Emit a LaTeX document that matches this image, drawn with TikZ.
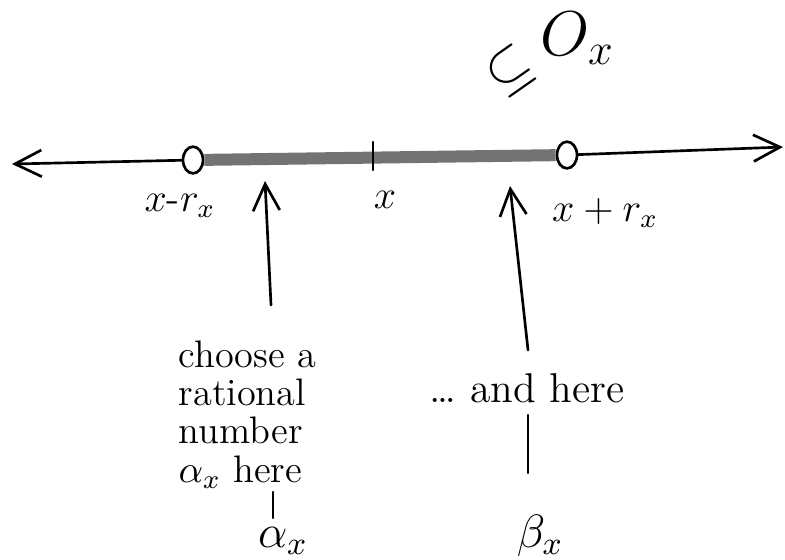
\RequirePackage{fix-cm}
\documentclass[tikz,border=0pt]{standalone}
\usepackage{amsmath}
\usetikzlibrary{arrows.meta, positioning, shapes.geometric}

\begin{document}
\begin{tikzpicture}[
  x=0.3pt,y=-0.3pt,
  pen/.style={line width=0.7pt, line cap=round},
  tipped/.style={-{Straight Barb[length=8pt,width=8pt]}, line width=0.8pt},
  hole/.style={draw, ellipse, line width=0.8pt, inner sep=0pt, minimum width=6pt, minimum height=8pt, fill=white},
  band/.style={line width=3.6pt, draw=black!55},
  lbl/.style={font=\fontsize{12}{14}\selectfont, inner sep=0pt},
  txt/.style={font=\fontsize{11.5}{11.5}\selectfont, inner sep=0pt},
  big/.style={font=\fontsize{14}{16}\selectfont, inner sep=0pt}
]

\useasboundingbox (0,0) rectangle (785,559);

% number line
\node[hole] (lo) at (193,160) {};
\node[hole] (hi) at (567,155) {};
\coordinate (lend) at (12,164);
\coordinate (rend) at (783,147);
\coordinate (xpt) at (373,156);

\draw[band] (lo) -- (hi);
\draw[pen, tipped] (lo) -- (lend);
\draw[pen, tipped] (hi) -- (rend);
\draw[pen] (xpt) ++(0,-14) -- ++(0,28);

% labels on the line
\node[lbl] (xm) at (180,206) {$x\text{-}r_x$};
\node[lbl] (xc) at (385,200) {$x$};
\node[lbl] (xp) at (605,213) {$x+r_x$};

% the set above
\node[font=\fontsize{17}{20}\selectfont, inner sep=0pt, rotate=35] (sub) at (510,71) {$\subseteq$};
\node[font=\fontsize{19}{22}\selectfont, inner sep=0pt, anchor=base west] (ox) at (540,55) {$O_x$};

% left pointer
\coordinate (a1t) at (265,181);
\coordinate (a1b) at (271,305);
\draw[pen, tipped] (a1b) -- (a1t);

\node[txt, align=left, anchor=north west] (choose) at (178,340) {choose a\\rational\\number\\$\alpha_x$ here};

\coordinate (a2t) at (273,492);
\coordinate (a2b) at (273,518);
\draw[pen] (a2t) -- (a2b);
\node[big] (alpha) at (283,541) {$\alpha_x$};

% right pointer
\coordinate (b1t) at (510,186);
\coordinate (b1b) at (528,350);
\draw[pen, tipped] (b1b) -- (b1t);

\node[font=\fontsize{12.5}{14}\selectfont, inner sep=0pt] (here) at (527,388) {\dots\ and here};

\coordinate (b2t) at (528,415);
\coordinate (b2b) at (528,473);
\draw[pen] (b2t) -- (b2b);
\node[big] (beta) at (540,536) {$\beta_x$};

\end{tikzpicture}
\end{document}
